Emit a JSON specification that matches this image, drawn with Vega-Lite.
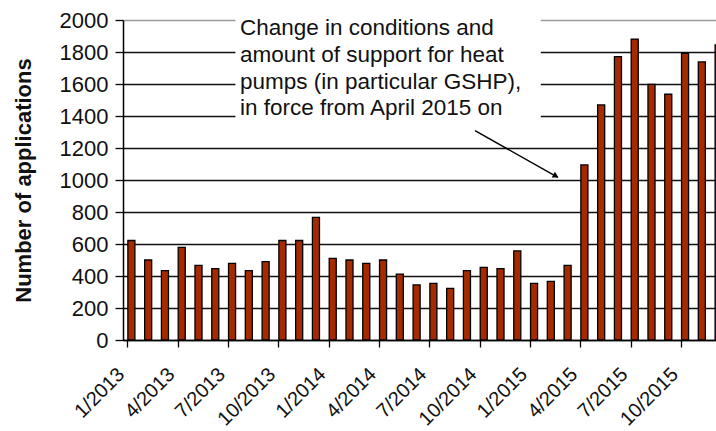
{
  "$schema": "https://vega.github.io/schema/vega-lite/v6.json",
  "width": 593,
  "height": 320,
  "autosize": {"type": "none"},
  "padding": {"left": 123, "top": 20, "right": 0, "bottom": 91},
  "background": "white",
  "config": {"view": {"stroke": null}, "font": "Liberation Sans"},
  "layer": [
    {
      "data": {"values": [
        {"month": "1/2013", "apps": 622}, {"month": "2/2013", "apps": 500}, {"month": "3/2013", "apps": 433},
        {"month": "4/2013", "apps": 579}, {"month": "5/2013", "apps": 467}, {"month": "6/2013", "apps": 446},
        {"month": "7/2013", "apps": 479}, {"month": "8/2013", "apps": 433}, {"month": "9/2013", "apps": 490},
        {"month": "10/2013", "apps": 622}, {"month": "11/2013", "apps": 622}, {"month": "12/2013", "apps": 767},
        {"month": "1/2014", "apps": 510}, {"month": "2/2014", "apps": 500}, {"month": "3/2014", "apps": 479},
        {"month": "4/2014", "apps": 500}, {"month": "5/2014", "apps": 412}, {"month": "6/2014", "apps": 344},
        {"month": "7/2014", "apps": 354}, {"month": "8/2014", "apps": 323}, {"month": "9/2014", "apps": 433},
        {"month": "10/2014", "apps": 454}, {"month": "11/2014", "apps": 446}, {"month": "12/2014", "apps": 557},
        {"month": "1/2015", "apps": 354}, {"month": "2/2015", "apps": 366}, {"month": "3/2015", "apps": 467},
        {"month": "4/2015", "apps": 1094}, {"month": "5/2015", "apps": 1469}, {"month": "6/2015", "apps": 1771},
        {"month": "7/2015", "apps": 1881}, {"month": "8/2015", "apps": 1598}, {"month": "9/2015", "apps": 1536},
        {"month": "10/2015", "apps": 1792}, {"month": "11/2015", "apps": 1738}, {"month": "12/2015", "apps": 1844}
      ]},
      "mark": {"type": "bar", "fill": "#A52A00", "stroke": "black", "strokeWidth": 1.3},
      "encoding": {
        "x": {
          "field": "month", "type": "ordinal", "sort": null,
          "scale": {"range": [0, 604], "paddingInner": 0.58, "paddingOuter": 0.29},
          "axis": {
            "title": null,
            "values": ["1/2013", "4/2013", "7/2013", "10/2013", "1/2014", "4/2014", "7/2014", "10/2014", "1/2015", "4/2015", "7/2015", "10/2015"],
            "bandPosition": 0,
            "domainColor": "black", "domainWidth": 1.5,
            "tickColor": "black", "tickWidth": 1.3, "tickSize": 7,
            "labelAngle": -45, "labelAlign": "right", "labelBaseline": "middle",
            "labelFontSize": 20, "labelColor": "#111111", "labelPadding": 24, "labelOffset": -10,
            "labelOverlap": false,
            "grid": false
          }
        },
        "y": {
          "field": "apps", "type": "quantitative",
          "scale": {"domain": [0, 2000], "nice": false},
          "axis": {
            "title": "Number of applications",
            "values": [0, 200, 400, 600, 800, 1000, 1200, 1400, 1600, 1800, 2000],
            "format": "d",
            "labelOverlap": false,
            "domainColor": "black", "domainWidth": 1.5,
            "tickColor": "black", "tickWidth": 1.3, "tickSize": 8,
            "labelFontSize": 22, "labelColor": "#111111", "labelPadding": 7,
            "grid": true, "gridWidth": 1.4,
            "gridColor": {"condition": {"test": "datum.value == 2000", "value": "#9a9a9a"}, "value": "#111111"},
            "titleFontSize": 22, "titleFontWeight": "bold", "titleColor": "#111111",
            "titleX": -100, "titleY": 160, "titleBaseline": "middle", "titleAngle": -90
          }
        }
      }
    },
    {
      "layer": [
        {
          "data": {"values": [{"x1": 6.7, "x2": 24.9, "y1": 1290, "y2": 2060}]},
          "mark": {"type": "rect", "fill": "white"},
          "encoding": {
            "x": {"field": "x1", "type": "quantitative", "scale": {"domain": [0, 36], "range": [0, 604], "nice": false, "zero": false}, "axis": null},
            "x2": {"field": "x2"},
            "y": {"field": "y1", "type": "quantitative", "scale": {"domain": [0, 2000], "nice": false, "zero": false}, "axis": null},
            "y2": {"field": "y2"}
          }
        },
        {
          "data": {"values": [
            {"x": 6.97, "y": 1950, "t": "Change in conditions and"},
            {"x": 6.97, "y": 1781, "t": "amount of support for heat"},
            {"x": 6.97, "y": 1613, "t": "pumps (in particular GSHP),"},
            {"x": 6.97, "y": 1450, "t": "in force from April 2015 on"}
          ]},
          "mark": {"type": "text", "align": "left", "baseline": "middle", "fontSize": 22.5, "color": "#111111"},
          "encoding": {
            "x": {"field": "x", "type": "quantitative", "axis": null},
            "y": {"field": "y", "type": "quantitative", "axis": null},
            "text": {"field": "t"}
          }
        },
        {
          "data": {"values": [{"x1": 20.98, "y1": 1308, "x2": 25.92, "y2": 1017}]},
          "mark": {"type": "rule", "color": "black", "strokeWidth": 1.5},
          "encoding": {
            "x": {"field": "x1", "type": "quantitative", "axis": null},
            "x2": {"field": "x2"},
            "y": {"field": "y1", "type": "quantitative", "axis": null},
            "y2": {"field": "y2"}
          }
        },
        {
          "data": {"values": [{"x": 25.8, "y": 1025}]},
          "mark": {"type": "point", "shape": "triangle-right", "filled": true, "color": "black", "size": 45, "angle": 29, "opacity": 1},
          "encoding": {
            "x": {"field": "x", "type": "quantitative", "axis": null},
            "y": {"field": "y", "type": "quantitative", "axis": null}
          }
        }
      ]
    }
  ],
  "resolve": {"scale": {"x": "independent", "y": "independent"}}
}
